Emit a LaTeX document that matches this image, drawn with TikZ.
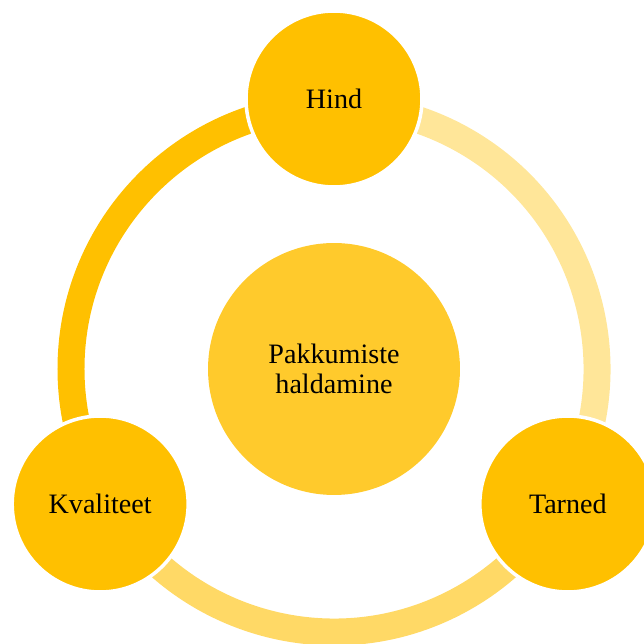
\documentclass[tikz,border=0pt]{standalone}
\usepackage{fontspec}
\setmainfont{Liberation Serif}

\definecolor{gold}{HTML}{FFC000}
\definecolor{goldcenter}{HTML}{FFCA2C}
\definecolor{goldmid}{HTML}{FFD966}
\definecolor{goldlight}{HTML}{FFE699}

\def \ringradius {263}
\def \nodedist {270}
\def \noderadius {3.52cm}

\begin{document}
\begin{tikzpicture}[x=0.02cm, y=0.02cm, font=\fontsize{16}{17}\selectfont,
  outer/.style={circle, fill=gold, draw=white, line width=2pt, minimum size=\noderadius, inner sep=0pt},
  ringseg/.style={line width=0.54cm}]
\useasboundingbox (-334,-275) rectangle (310,369);
\clip (-334,-275) rectangle (310,369);
\coordinate (o) at (0,0);
% ring segments
\draw[ringseg, gold] (o) ++(90:\ringradius) arc[start angle=90, end angle=210, radius=\ringradius];
\draw[ringseg, goldmid] (o) ++(210:\ringradius) arc[start angle=210, end angle=330, radius=\ringradius];
\draw[ringseg, goldlight] (o) ++(330:\ringradius) arc[start angle=330, end angle=450, radius=\ringradius];
% center
\node[circle, fill=goldcenter, minimum size=5.04cm, align=center] (mid) at (o) {Pakkumiste\\haldamine};
% outer nodes
\node[outer] (hind) at (90:\nodedist) {Hind};
\node[outer] (kvaliteet) at (210:\nodedist) {Kvaliteet};
\node[outer] (tarned) at (330:\nodedist) {Tarned};
\end{tikzpicture}
\end{document}
